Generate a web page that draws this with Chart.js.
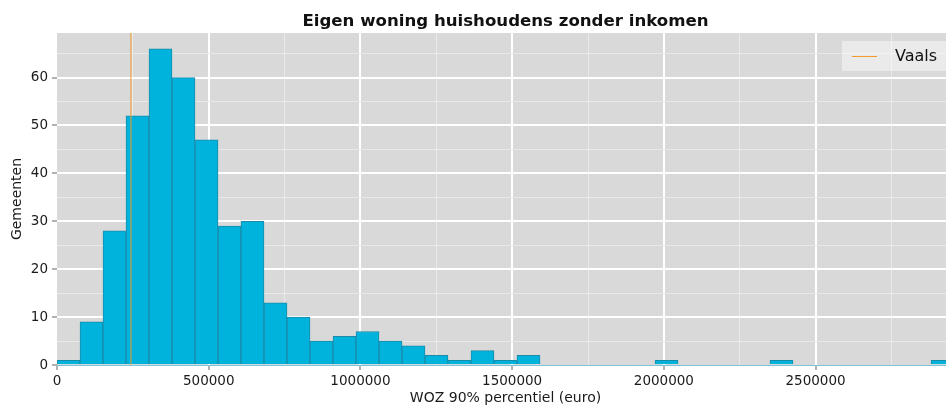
<!DOCTYPE html>
<html><head><meta charset="utf-8">
<script src="https://cdn.jsdelivr.net/npm/chart.js@4/dist/chart.umd.min.js"></script>
<style>
html,body{margin:0;padding:0;background:#fff;overflow:hidden;width:946px;height:407px}
#wrap{position:absolute;left:0;top:0;width:960px;height:407px}
</style>
</head><body>
<div id="wrap"><canvas id="c" width="960" height="407"></canvas></div>
<script>
// ---- data ----
const chartTitle = 'Eigen woning huishoudens zonder inkomen';
const xTitle = 'WOZ 90% percentiel (euro)';
const yTitle = 'Gemeenten';
const binWidth = 75800;
const binStarts = [0, 75800, 151600, 227400, 303200, 379000, 454800, 530600, 606400, 682200,
  758000, 833800, 909600, 985400, 1061200, 1137000, 1212800, 1288600, 1364400, 1440200,
  1516000, 1591800, 1667600, 1743400, 1819200, 1895000, 1970800, 2046600, 2122400, 2198200,
  2274000, 2349800, 2425600, 2501400, 2577200, 2653000, 2728800, 2804600, 2880400];
const binCounts = [1, 9, 28, 52, 66, 60, 47, 29, 30, 13,
  10, 5, 6, 7, 5, 4, 2, 1, 3, 1,
  2, 0, 0, 0, 0, 0, 1, 0, 0, 0,
  0, 1, 0, 0, 0, 0, 0, 0, 1];
const xMax = 2956200;
const yMax = 69.3;
const markerLabel = 'Vaals';
const markerValue = 243700;

// ---- styles ----
const FONT = '"DejaVu Sans", "Liberation Sans", sans-serif';
const BAR = '#00b3dd', BAR_EDGE = '#1a8aa8', MARK = '#f39a2a';
const PLOT_BG = '#d9d9d9';

const barData = binStarts.map((s, i) => ({x: s + binWidth / 2, y: binCounts[i]}));
const markerData = [{x: markerValue, y: 0}, {x: markerValue, y: yMax}];

const isMajor = (v, step) => Math.abs(v / step - Math.round(v / step)) < 1e-6;

function gridOpts(step) {
  return {
    offset: false,
    drawTicks: true,
    tickLength: 5,
    tickWidth: 1,
    color: c => (!c.tick || Math.abs(c.tick.value) < 1e-6) ? 'rgba(0,0,0,0)' : (isMajor(c.tick.value, step) ? '#ffffff' : '#e9e9e9'),
    lineWidth: c => (c.tick && isMajor(c.tick.value, step)) ? 2 : 1,
    tickColor: c => (c.tick && isMajor(c.tick.value, step)) ? '#666666' : 'rgba(0,0,0,0)'
  };
}

const bgPlugin = {
  id: 'bg',
  beforeDraw(chart) {
    const {ctx, chartArea: a} = chart;
    ctx.save();
    ctx.fillStyle = '#ffffff';
    ctx.fillRect(0, 0, chart.width, chart.height);
    ctx.fillStyle = PLOT_BG;
    ctx.fillRect(a.left, a.top, a.right - a.left, a.bottom - a.top);
    ctx.restore();
  }
};

const titleAndLegend = {
  id: 'titleLegend',
  afterDraw(chart) {
    const {ctx, chartArea: a} = chart;
    ctx.save();
    ctx.fillStyle = '#111111';
    ctx.font = 'bold 16.6px ' + FONT;
    ctx.textAlign = 'center';
    ctx.textBaseline = 'middle';
    ctx.fillText(chartTitle, (a.left + a.right) / 2, 22);
    // legend box inside plot, upper right
    const ds = chart.data.datasets[0];
    const bx = a.right - 8 - 104, by = Math.round(a.top + 8);
    ctx.fillStyle = 'rgba(255,255,255,0.45)';
    ctx.fillRect(bx, by, 104, 30);
    ctx.strokeStyle = ds.borderColor;
    ctx.lineWidth = 1;
    ctx.beginPath();
    ctx.moveTo(bx + 10, by + 15.5);
    ctx.lineTo(bx + 35, by + 15.5);
    ctx.stroke();
    ctx.fillStyle = '#111111';
    ctx.font = '16px ' + FONT;
    ctx.textAlign = 'left';
    ctx.fillText(ds.label, bx + 53, by + 15.5);
    ctx.restore();
  }
};

new Chart(document.getElementById('c'), {
  type: 'bar',
  data: {
    datasets: [
      {type: 'line', label: markerLabel, data: markerData, borderColor: MARK, borderWidth: 1,
       pointRadius: 0, fill: false, order: 0},
      {type: 'bar', label: 'Gemeenten', data: barData, backgroundColor: BAR, borderColor: BAR_EDGE,
       borderWidth: 1, barPercentage: 1, categoryPercentage: 1, grouped: false, order: 1}
    ]
  },
  options: {
    responsive: false,
    animation: false,
    layout: {padding: {top: 33, right: 6, left: 0, bottom: 0}},
    plugins: {legend: {display: false}, title: {display: false}, tooltip: {enabled: false}},
    scales: {
      x: {
        type: 'linear', min: 0, max: xMax, offset: false,
        afterBuildTicks: s => {
          const t = [];
          for (let v = 0; v <= xMax; v += 250000) t.push({value: v});
          s.ticks = t;
        },
        ticks: {autoSkip: false, maxRotation: 0,
          padding: 3, color: '#1a1a1a', font: {family: FONT, size: 13.5},
          callback: v => isMajor(v, 500000) ? String(v) : ''},
        grid: gridOpts(500000),
        border: {display: true, color: '#7cc3dc', width: 1},
        title: {display: true, text: xTitle, color: '#1a1a1a', padding: {top: 0, bottom: 0},
          font: {family: FONT, size: 14}},
        afterFit: s => { s.height = 42; }
      },
      y: {
        min: 0, max: yMax,
        afterBuildTicks: s => {
          const t = [];
          for (let v = 0; v <= yMax; v += 5) t.push({value: v});
          s.ticks = t;
        },
        ticks: {autoSkip: false, padding: 4, color: '#1a1a1a',
          font: {family: FONT, size: 13.5},
          callback: v => isMajor(v, 10) ? String(v) : ''},
        grid: gridOpts(10),
        border: {display: false},
        title: {display: true, text: yTitle, color: '#1a1a1a', padding: {top: 9, bottom: 0},
          font: {family: FONT, size: 14}},
        afterFit: s => { s.width = 57; }
      }
    }
  },
  plugins: [bgPlugin, titleAndLegend]
});
</script>
</body></html>
